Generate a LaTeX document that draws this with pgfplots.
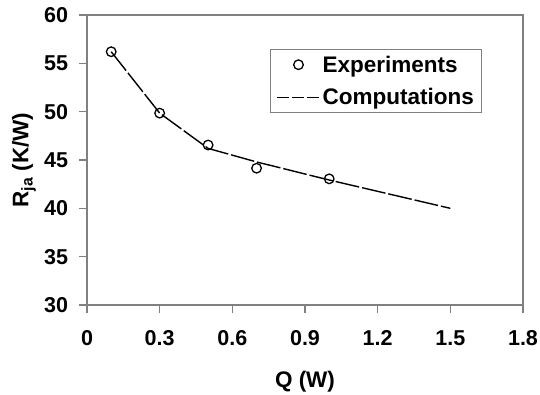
\documentclass[border=0pt]{standalone}
\usepackage{pgfplots}
\pgfplotsset{compat=1.18}
\usepackage{fontspec}
\setmainfont{Liberation Sans}
\definecolor{axgray}{HTML}{808080}
\newcommand{\tickfont}{\bfseries\fontsize{21.5}{25}\selectfont}
\newcommand{\labfont}{\bfseries\fontsize{22.5}{27}\selectfont}
\pgfplotsset{
  linelegend/.style={legend image code/.code={\draw[##1, dash pattern=on 12pt off 3pt] (0pt,0pt) -- (43pt,0pt);}},
  marklegend/.style={legend image code/.code={\draw[mark repeat=2,mark phase=2,##1] plot coordinates {(0pt,0pt)(21.5pt,0pt)(43pt,0pt)};}},
}
\pgfplotstableread{
q r
0.1 56.2
0.3 49.85
0.5 46.55
0.7 44.15
1.0 43.05
}\experiments
\pgfplotstableread{
q r
0.1 56.2
0.3 49.85
0.5 46.2
0.7 44.8
1.0 42.93
1.5 40.0
}\computations
\begin{document}
\begin{tikzpicture}
\begin{axis}[
  scale only axis, width=436pt, height=290pt,
  xmin=0, xmax=1.8, ymin=30, ymax=60,
  xtick={0,0.3,0.6,0.9,1.2,1.5,1.8},
  xticklabels={0,0.3,0.6,0.9,1.2,1.5,1.8},
  ytick={30,35,40,45,50,55,60},
  yticklabels={30,35,40,45,50,55,60},
  tick align=outside, xtick pos=left, ytick pos=left,
  major tick length=7.5pt,
  axis line style={draw=axgray, line width=1.4pt},
  every tick/.append style={draw=axgray, line width=1.3pt},
  every x tick label/.append style={font=\tickfont, anchor=base, yshift=-33pt},
  every y tick label/.append style={font=\tickfont, anchor=east, xshift=-8pt},
  xlabel={Q (W)},
  ylabel={R\textsubscript{ja} (K/W)},
  xlabel style={font=\labfont, at={(axis description cs:0.5,-0.2828)}, anchor=base},
  ylabel style={font=\labfont, at={(axis description cs:-0.1346,0.5)}, anchor=base},
  reverse legend,
  legend cell align=left,
  legend style={at={(axis description cs:0.906,0.882)}, anchor=north east,
    draw=axgray, line width=1.2pt,
    font=\labfont,
    inner xsep=5.5pt, inner ysep=4pt, row sep=11pt},
]
\addplot[black, line width=1.4pt, dash pattern=on 24pt off 3pt, linelegend]
  table[x=q, y=r] {\computations};
\addlegendentry{Computations}
\addplot[only marks, mark=o, mark size=4.8pt,
  mark options={black, line width=1.3pt, fill=white, solid}, marklegend]
  table[x=q, y=r] {\experiments};
\addlegendentry{Experiments}
\end{axis}
\pgfresetboundingbox
\path[use as bounding box] (current axis.south west) ++(-87pt,-89pt) rectangle ++(540pt,394pt);
\end{tikzpicture}
\end{document}
